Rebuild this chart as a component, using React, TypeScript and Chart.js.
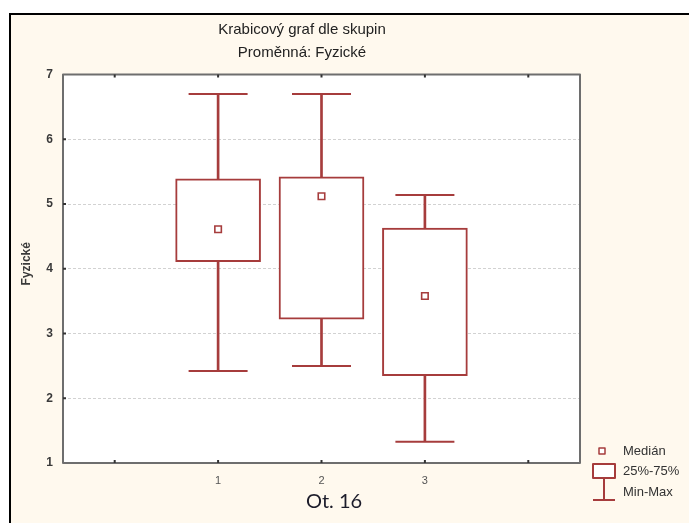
import React, { useEffect, useRef } from 'react';
import { Chart, registerables } from 'chart.js';

Chart.register(...registerables);

// ---- data ----
const categories = ['', '1', '2', '3', ''];
const maxValues = [null, 6.7, 6.7, 5.14, null];
const q3Values = [null, 5.39, 5.42, 4.63, null];
const medianValues = [null, 4.61, 5.12, 3.58, null];
const q1Values = [null, 4.11, 3.22, 2.35, null];
const minValues = [null, 2.42, 2.5, 1.33, null];
const yMin = 1;
const yMax = 7;
const titleLines = ['Krabicový graf dle skupin', 'Proměnná: Fyzické'];
const xTitle = 'Ot. 16';
const yTitle = 'Fyzické';
const legendLabels = ['Medián', '25%-75%', 'Min-Max'];

const RED = '#A63C3C';
const SANS = '"Liberation Sans", Arial, sans-serif';

const decorPlugin = {
  id: 'decor',
  beforeDraw(chart: any) {
    const { ctx, chartArea: a } = chart;
    ctx.save();
    ctx.fillStyle = '#ffffff';
    ctx.fillRect(a.left, a.top, a.right - a.left, a.bottom - a.top);
    ctx.restore();
  },
  afterDraw(chart: any) {
    const { ctx, chartArea: a } = chart;
    const xs = chart.scales.x;
    const ys = chart.scales.y;
    ctx.save();
    // frame
    ctx.strokeStyle = '#6e6e6e';
    ctx.lineWidth = 2;
    ctx.lineJoin = 'round';
    ctx.strokeRect(a.left, a.top, a.right - a.left, a.bottom - a.top);
    // inner ticks
    ctx.strokeStyle = '#333333';
    ctx.lineWidth = 2;
    ctx.beginPath();
    xs.ticks.forEach((_t: any, i: number) => {
      const x = xs.getPixelForTick(i);
      ctx.moveTo(x, a.bottom);
      ctx.lineTo(x, a.bottom - 3);
      ctx.moveTo(x, a.top);
      ctx.lineTo(x, a.top + 3);
    });
    ys.ticks.forEach((t: any) => {
      if (t.value <= yMin || t.value >= yMax) return;
      const y = ys.getPixelForValue(t.value);
      ctx.moveTo(a.left, y);
      ctx.lineTo(a.left + 3, y);
    });
    ctx.stroke();

    // titles
    ctx.fillStyle = '#222222';
    ctx.textAlign = 'center';
    ctx.textBaseline = 'middle';
    ctx.font = '15px ' + SANS;
    ctx.fillText(titleLines[0], 291, 15);
    ctx.fillText(titleLines[1], 291, 38);

    // x title
    ctx.font = '20px Lato, "Open Sans", sans-serif';
    ctx.fillStyle = '#1c1c2a';
    ctx.fillText(xTitle, 323, 487);

    // y title
    ctx.save();
    ctx.translate(16, (a.top + a.bottom) / 2 - 5);
    ctx.rotate(-Math.PI / 2);
    ctx.font = 'bold 12px ' + SANS;
    ctx.fillStyle = '#3a3a3a';
    ctx.fillText(yTitle, 0, 0);
    ctx.restore();

    // legend
    const lx = a.right;
    const by = a.bottom;
    ctx.strokeStyle = RED;
    ctx.fillStyle = '#ffffff';
    ctx.lineWidth = 1.5;
    ctx.fillRect(lx + 19, by - 15, 6, 6);
    ctx.strokeRect(lx + 19, by - 15, 6, 6);
    ctx.lineWidth = 2;
    ctx.fillRect(lx + 13, by + 1, 22, 14);
    ctx.strokeRect(lx + 13, by + 1, 22, 14);
    ctx.beginPath();
    ctx.moveTo(lx + 24, by + 15);
    ctx.lineTo(lx + 24, by + 37);
    ctx.moveTo(lx + 13, by + 37);
    ctx.lineTo(lx + 35, by + 37);
    ctx.stroke();

    ctx.fillStyle = '#333333';
    ctx.textAlign = 'left';
    ctx.font = '13px ' + SANS;
    ctx.fillText(legendLabels[0], lx + 43, by - 12);
    ctx.fillText(legendLabels[1], lx + 43, by + 8);
    ctx.fillText(legendLabels[2], lx + 43, by + 29);
    ctx.restore();
  },
};

export default function App() {
  const ref = useRef<HTMLCanvasElement>(null);

  useEffect(() => {
    const whiskers = categories.map((_, i) =>
      minValues[i] == null ? null : [minValues[i], maxValues[i]]
    );
    const boxes = categories.map((_, i) =>
      q1Values[i] == null ? null : [q1Values[i], q3Values[i]]
    );

    const chart = new Chart(ref.current as HTMLCanvasElement, {
      type: 'bar',
      data: {
        labels: categories,
        datasets: [
          {
            type: 'bar',
            data: whiskers as any,
            backgroundColor: RED,
            borderWidth: 0,
            barThickness: 2,
            grouped: false,
            order: 4,
          } as any,
          {
            type: 'bar',
            data: boxes as any,
            backgroundColor: '#ffffff',
            borderColor: RED,
            borderWidth: 2,
            borderSkipped: false,
            barThickness: 85,
            grouped: false,
            order: 3,
          } as any,
          {
            type: 'line',
            data: maxValues as any,
            showLine: false,
            pointStyle: 'line',
            pointRadius: 29.5,
            pointBorderWidth: 2,
            pointBorderColor: RED,
            order: 2,
          } as any,
          {
            type: 'line',
            data: minValues as any,
            showLine: false,
            pointStyle: 'line',
            pointRadius: 29.5,
            pointBorderWidth: 2,
            pointBorderColor: RED,
            order: 2,
          } as any,
          {
            type: 'line',
            data: medianValues as any,
            showLine: false,
            pointStyle: 'rect',
            pointRadius: 4.6,
            pointBackgroundColor: '#ffffff',
            pointBorderColor: RED,
            pointBorderWidth: 1.6,
            order: 1,
          } as any,
        ],
      },
      options: {
        responsive: false,
        animation: false,
        devicePixelRatio: 1,
        layout: { padding: { left: 0, top: 59.5, right: 109, bottom: 0 } },
        plugins: {
          legend: { display: false },
          title: { display: false },
          tooltip: { enabled: false },
        },
        scales: {
          x: {
            type: 'category',
            offset: true,
            grid: { display: false, drawTicks: false },
            border: { display: false },
            ticks: {
              autoSkip: false,
              maxRotation: 0,
              padding: 11,
              color: '#555555',
              font: { family: SANS, size: 11 },
            },
            afterFit: (s: any) => {
              s.height = 60;
            },
          },
          y: {
            type: 'linear',
            min: yMin,
            max: yMax,
            ticks: {
              stepSize: 1,
              padding: 10,
              color: '#3a3a3a',
              font: { family: SANS, size: 12, weight: 'bold' },
            },
            grid: { color: '#d2d2d2', lineWidth: 1, drawTicks: false },
            border: { display: false, dash: [3, 2] },
            afterFit: (s: any) => {
              s.width = 52;
            },
          },
        },
      } as any,
      plugins: [decorPlugin],
    });
    return () => chart.destroy();
  }, []);

  return (
    <div
      style={{
        position: 'fixed',
        left: 9,
        top: 13,
        right: 0,
        bottom: 0,
        borderLeft: '2px solid #000',
        borderTop: '2px solid #000',
        background: '#FFF9EE',
      }}
    >
      <canvas
        ref={ref}
        width={678}
        height={508}
        style={{ display: 'block', width: 678, height: 508 }}
      />
    </div>
  );
}
